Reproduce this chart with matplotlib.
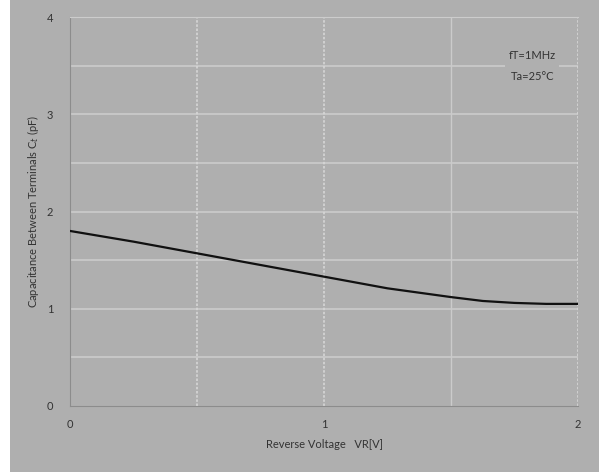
import matplotlib
matplotlib.use('Agg')
import matplotlib.pyplot as plt
from matplotlib.patches import Rectangle

# Curve
vr = [0, 0.25, 0.5, 0.75, 1.0, 1.25, 1.5, 1.625, 1.75, 1.875, 2.0]
ct = [1.80, 1.69, 1.57, 1.45, 1.33, 1.21, 1.12, 1.08, 1.06, 1.05, 1.05]
x_ticks = [0, 1, 2]
y_ticks = [0, 1, 2, 3, 4]

BG = '#afafaf'
plt.rcParams['font.family'] = ['Lato', 'DejaVu Sans']


def main():
    fig = plt.figure(figsize=(5.99, 4.72), dpi=100, facecolor=BG)
    # white strip on the left edge of the scan
    fig.patches.append(Rectangle((0, 0), 10 / 599, 1, transform=fig.transFigure,
                                 facecolor='white', edgecolor='none', zorder=-1))
    ax = fig.add_axes([70 / 599, 66 / 472, 508 / 599, 389 / 472])
    ax.set_facecolor(BG)

    # grid
    for y in [0.5, 1, 1.5, 2, 2.5, 3, 3.5]:
        ax.axhline(y, color='#cbcbcb', lw=1.2, zorder=1)
    for x in [0.5, 1.0, 2.0]:
        ax.axvline(x, color='#d6d6d6', lw=1.2, ls=(0, (1.5, 1)), zorder=1)
    ax.axvline(1.5, color='#cbcbcb', lw=1.0, zorder=1)

    ax.plot(vr, ct, color='#111111', lw=1.6, zorder=3)

    ax.set_xlim(0, 2)
    ax.set_ylim(0, 4)
    ax.set_xticks(x_ticks)
    ax.set_yticks(y_ticks)
    ax.tick_params(length=0, labelsize=8, colors='#333333')
    ax.tick_params(axis='y', pad=12)
    ax.tick_params(axis='x', pad=9)

    ax.spines['top'].set_color('#cccccc')
    ax.spines['right'].set_visible(False)
    ax.spines['left'].set_color('#8c8c8c')
    ax.spines['bottom'].set_color('#8c8c8c')

    ax.set_xlabel('Reverse Voltage   VR[V]', fontsize=8, color='#333333', labelpad=7)
    ax.set_ylabel('Capacitance Between Terminals C$_t$ (pF)', fontsize=8,
                  color='#333333', labelpad=4)

    ax.text(1.82, 3.5, 'fT=1MHz\n\nTa=25°C', fontsize=8, color='#333333',
            ha='center', va='center', linespacing=0.95, zorder=4,
            bbox=dict(boxstyle='square,pad=0.3', facecolor=BG, edgecolor='none'))

    fig.savefig('out.png', dpi=100, facecolor=fig.get_facecolor())


if __name__ == '__main__':
    main()
